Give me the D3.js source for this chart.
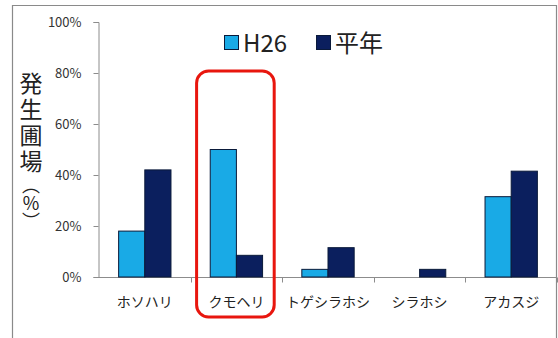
<!DOCTYPE html>
<html><head><meta charset="utf-8">
<script src="https://cdn.jsdelivr.net/npm/d3@7"></script>
<style>body{margin:0;background:#fff}svg{display:block}</style>
</head><body>
<svg id="c" width="558" height="338"></svg>
<script>
const categories = ["ホソハリ","クモヘリ","トゲシラホシ","シラホシ","アカスジ"];
const seriesNames = ["H26","平年"];
const h26 = [18, 50, 3, 0, 31.5];
const heinen = [42, 8.5, 11.5, 3, 41.5];
const yTicks = [0, 20, 40, 60, 80, 100];
const yTitleMain = "発生圃場";
const yTitleUnit = "（％）";
const highlight = "クモヘリ";
const colors = ["#19aae6", "#0b1f5e"];

const svg = d3.select("#c");
const font = "'Noto Sans CJK JP','Noto Sans',sans-serif";
svg.append("rect").attr("x",0).attr("y",0).attr("width",558).attr("height",338).attr("fill","#fff");
// outer frame
svg.append("path").attr("d","M12.5,340 V5.5 H556.5 V340").attr("fill","none").attr("stroke","#8a8a8a").attr("stroke-width",1.2);

const x0 = d3.scaleBand().domain(categories).range([99, 557]);
const x1 = d3.scaleBand().domain(seriesNames).range([0, x0.bandwidth()]).paddingInner(0).paddingOuter(0.75);
const y = d3.scaleLinear().domain([0,100]).range([277, 22]);

// y axis
const yAxis = svg.append("g").attr("transform","translate(98.5,0)")
  .call(d3.axisLeft(y).tickValues(yTicks).tickFormat(d=>d+"%").tickSize(5).tickPadding(12));
yAxis.selectAll("path,line").attr("stroke","#8c8c8c");
yAxis.selectAll("text").attr("font-family",font).attr("font-size",13).attr("fill","#333");

// x axis
const xAxisG = svg.append("g").attr("transform","translate(0,277.5)");
xAxisG.append("line").attr("x1",98).attr("x2",557).attr("stroke","#8c8c8c");
const bounds = categories.map(c=>x0(c)).concat([x0.range()[1]]);
xAxisG.selectAll("line.t").data(bounds.slice(1)).join("line").attr("class","t")
  .attr("x1",d=>Math.round(d)+0.5).attr("x2",d=>Math.round(d)+0.5).attr("y1",0).attr("y2",5).attr("stroke","#8c8c8c");
xAxisG.selectAll("text").data(categories).join("text")
  .attr("x",d=>x0(d)+x0.bandwidth()/2).attr("y",29).attr("text-anchor","middle")
  .attr("font-family",font).attr("font-size",14).attr("fill","#222").text(d=>d);

// bars
const rows = categories.map((c,i)=>({c, vals:[h26[i], heinen[i]]}));
const g = svg.append("g");
rows.forEach(r=>{
  r.vals.forEach((v,j)=>{
    if (v<=0) return;
    g.append("rect")
      .attr("x", x0(r.c)+x1(seriesNames[j]))
      .attr("y", y(v))
      .attr("width", x1.bandwidth())
      .attr("height", y(0)-y(v))
      .attr("fill", colors[j]).attr("stroke","#0a1a3a").attr("stroke-width",1);
  });
});

// highlight box
svg.append("rect")
  .attr("x", x0(highlight)+6).attr("y", 71)
  .attr("width", x0.bandwidth()-14).attr("height", 246)
  .attr("rx", 12).attr("ry", 12)
  .attr("fill","none").attr("stroke","#e8160e").attr("stroke-width",3);

// legend
const leg = svg.append("g");
const legX = [224, 316];
seriesNames.forEach((s,i)=>{
  leg.append("rect").attr("x",legX[i]+0.5).attr("y",35.5).attr("width",14).attr("height",14)
    .attr("fill",colors[i]).attr("stroke","#0a1a3a").attr("stroke-width",1);
  leg.append("text").attr("x",legX[i]+19).attr("y",52).attr("font-family",font).attr("font-size",24)
    .attr("fill","#222").text(s);
});

// y title (vertical)
svg.append("text").attr("x",31).attr("y",72)
  .attr("font-family",font).attr("font-size",23).attr("fill","#222")
  .style("writing-mode","vertical-rl")
  .attr("letter-spacing",3).text(yTitleMain);
svg.append("text").attr("x",31).attr("y",176)
  .attr("font-family",font).attr("font-size",18).attr("fill","#222")
  .style("writing-mode","vertical-rl")
  .text(yTitleUnit);
</script>
</body></html>
